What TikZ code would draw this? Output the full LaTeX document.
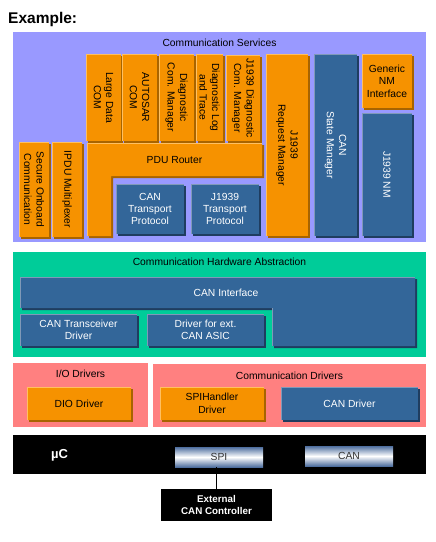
\documentclass[tikz,border=0pt]{standalone}
\usepackage{fontspec}
\setmainfont{Liberation Sans}
\usetikzlibrary{fit}
\definecolor{orng}{HTML}{F69200}
\definecolor{orngdk}{HTML}{A86400}
\definecolor{ornglt}{HTML}{FFC060}
\definecolor{blu}{HTML}{336699}
\definecolor{bludk}{HTML}{1F3D60}
\definecolor{blult}{HTML}{8099B8}
\definecolor{purp}{HTML}{9999FF}
\definecolor{grn}{HTML}{00CC99}
\definecolor{pnk}{HTML}{FF8080}
\definecolor{spib}{HTML}{4F6F9F}
\definecolor{spit}{HTML}{333333}
\newcommand{\fs}{\fontsize{10.3}{12.4}\selectfont}
\newcommand{\bx}[8]{%
  \fill[#1dk] (#3+2,#4+2) rectangle (#5+2,#6+2);
  \node[#1fill, fit={(#3,#4) (#5,#6)}] (#2) {};
  \draw[#1lt] (#3+0.6,#6) -- (#3+0.6,#4+0.6) -- (#5,#4+0.6);
  \node[#1txt, #7] (#2-t) at (#2.center) {#8};
}
\tikzset{
  odk/.style={fill=orngdk},
  ofill/.style={fill=orng, inner sep=0pt, outer sep=0pt},
  olt/.style={draw=ornglt, line width=1.2pt},
  otxt/.style={font=\fs, align=center, inner sep=0pt, text=black},
  bdk/.style={fill=bludk},
  bfill/.style={fill=blu, inner sep=0pt, outer sep=0pt},
  blt/.style={draw=blult, line width=1.2pt},
  btxt/.style={font=\fs, align=center, inner sep=0pt, text=white},
  ttl/.style={font=\fs, inner sep=0pt, text=black},
  hw/.style={minimum width=88pt, minimum height=20pt, inner sep=0pt,
    top color=spib, bottom color=spib, middle color=white, font=\fs, text=spit},
}
\begin{document}
\begin{tikzpicture}[x=1pt, y=-1pt]
\fill[white] (0,0) rectangle (436,542);
\useasboundingbox (0,0) rectangle (436,542);
\node[font=\bfseries\fontsize{15.5}{18}\selectfont, anchor=west, inner sep=0pt] (ex) at (8,19) {Example:};

% Communication Services
\fill[purp] (13,32) rectangle (426,242);
\node[ttl] (cs) at (219.5,43) {Communication Services};
\bx{o}{ldc}{86}{54}{121}{141}{rotate=-90}{Large Data\\COM}
\bx{o}{acom}{122}{54}{157}{141}{rotate=-90}{AUTOSAR\\COM}
\bx{o}{dcm}{159}{54}{194}{141}{rotate=-90}{Diagnostic\\Com. Manager}
\bx{o}{dlt}{196}{54}{223}{141}{rotate=-90}{Diagnostic Log\\and Trace}
\bx{o}{jdcm}{226}{55}{260}{141}{rotate=-90}{J1939 Diagnostic\\Com. Manager}
\bx{o}{jrm}{266}{54}{308}{236}{rotate=-90}{J1939\\Request Manager}
\bx{b}{cansm}{314}{54}{357}{236}{rotate=-90}{CAN\\State Manager}
\bx{o}{gnm}{362}{54}{412}{108}{}{Generic\\NM\\Interface}
\bx{b}{jnm}{362}{113}{412}{236}{rotate=-90}{J1939 NM}
\bx{o}{secoc}{19}{142}{49}{237}{rotate=-90}{Secure Onboard\\Communication}
\bx{o}{ipdum}{52}{142}{82}{237}{rotate=-90}{IPDU Multiplexer}
% PDU Router (L shape)
\fill[odk] (89,145) -- (264,145) -- (264,178) -- (113,178) -- (113,238) -- (89,238) -- cycle;
\fill[orng] (87,143) -- (262,143) -- (262,176) -- (111,176) -- (111,236) -- (87,236) -- cycle;
\draw[olt] (87.6,236) -- (87.6,143.6) -- (262,143.6);
\node[otxt] (pdur) at (174.5,160) {PDU Router};
\bx{b}{cantp}{116}{184}{184}{234}{}{CAN\\Transport\\Protocol}
\bx{b}{jtp}{191}{184}{259}{234}{}{J1939\\Transport\\Protocol}

% Communication Hardware Abstraction
\fill[grn] (13,252) rectangle (426,357);
\node[ttl] (cha) at (219.5,262) {Communication Hardware Abstraction};
\fill[bdk] (22,279) -- (417,279) -- (417,348) -- (274,348) -- (274,310) -- (22,310) -- cycle;
\fill[blu] (20,277) -- (415,277) -- (415,346) -- (272,346) -- (272,308) -- (20,308) -- cycle;
\draw[blt] (20.6,308) -- (20.6,277.6) -- (415,277.6);
\draw[blt] (272.6,346) -- (272.6,308);
\node[btxt] (canif) at (226,293) {CAN Interface};
\bx{b}{cantrcv}{20}{314}{137}{346}{}{CAN Transceiver\\Driver}
\bx{b}{drvext}{147}{314}{264}{346}{}{Driver for ext.\\CAN ASIC}

% Drivers
\fill[pnk] (13,363) rectangle (148,427);
\node[ttl] (iod) at (80.5,374) {I/O Drivers};
\fill[pnk] (153,364) rectangle (426,427);
\node[ttl] (cd) at (289.5,376) {Communication Drivers};
\bx{o}{dio}{27}{387}{131}{420}{}{DIO Driver}
\bx{o}{spih}{160}{387}{264}{420}{}{SPIHandler\\Driver}
\bx{b}{candrv}{281}{387}{418}{420}{}{CAN Driver}

% Microcontroller
\fill[black] (13,435) rectangle (426,474);
\node[font=\bfseries\fontsize{13}{15}\selectfont, text=white, inner sep=0pt] (uc) at (59.5,455) {µC};
\node[hw] (spi) at (219,457) {SPI};
\node[hw] (can) at (349,456) {CAN};
\node[fill=black, text=white, minimum width=111pt, minimum height=32pt, inner sep=0pt,
  font=\bfseries\fontsize{9.8}{12.4}\selectfont, align=center] (ext) at (216.5,505) {External\\CAN Controller};
\draw[line width=0.8pt] (ext.north) -- (ext.north |- spi.south);
\end{tikzpicture}
\end{document}
